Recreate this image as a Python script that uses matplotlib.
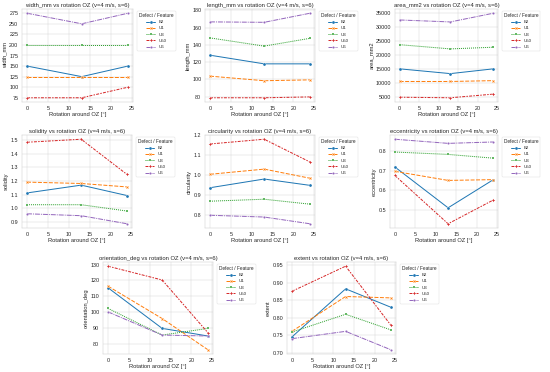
import matplotlib
matplotlib.use("Agg")
import matplotlib.pyplot as plt
import seaborn as sns
import pandas as pd

rotation = [0, 13, 24]
defects = ["B2", "U1", "U3", "U50", "U6"]

width_mm = {"B2": [150, 125, 150], "U1": [125, 125, 125], "U3": [200, 200, 200],
            "U50": [75, 75, 100], "U6": [275, 250, 275]}
length_mm = {"B2": [128, 118, 118], "U1": [103.8, 98.5, 99.5], "U3": [148, 138.5, 147.5],
             "U50": [78.8, 78.8, 79.8], "U6": [166.5, 166, 176.5]}
area_mm2 = {"B2": [15200, 13500, 15200], "U1": [10700, 10700, 11000], "U3": [23800, 22300, 22900],
            "U50": [5100, 4900, 6200], "U6": [32600, 31900, 35000]}
solidity = {"B2": [1.113, 1.170, 1.094], "U1": [1.192, 1.182, 1.157], "U3": [1.027, 1.027, 0.981],
            "U50": [1.483, 1.505, 1.248], "U6": [0.961, 0.947, 0.888]}
circularity = {"B2": [0.936, 0.980, 0.948], "U1": [1.004, 1.030, 0.984], "U3": [0.868, 0.878, 0.853],
               "U50": [1.157, 1.181, 1.066], "U6": [0.797, 0.788, 0.754]}
eccentricity = {"B2": [0.719, 0.512, 0.654], "U1": [0.697, 0.651, 0.655], "U3": [0.795, 0.783, 0.764],
                "U50": [0.676, 0.431, 0.551], "U6": [0.860, 0.839, 0.846]}
orientation_deg = {"B2": [115.4, 89.8, 85.0], "U1": [116.4, 96.0, 76.3], "U3": [102.4, 85.6, 89.8],
                   "U50": [129.0, 120.3, 87.0], "U6": [100.2, 85.6, 85.0]}
extent = {"B2": [0.745, 0.883, 0.830], "U1": [0.761, 0.861, 0.857], "U3": [0.759, 0.810, 0.765],
          "U50": [0.876, 0.948, 0.778], "U6": [0.740, 0.761, 0.708]}

width_ticks = [75, 100, 125, 150, 175, 200, 225, 250, 275]

metrics = [("width_mm", width_mm), ("length_mm", length_mm), ("area_mm2", area_mm2),
           ("solidity", solidity), ("circularity", circularity), ("eccentricity", eccentricity),
           ("orientation_deg", orientation_deg), ("extent", extent)]

sns.set_theme(style="whitegrid")
plt.rcParams['font.family'] = ['Liberation Sans', 'DejaVu Sans']
plt.rcParams.update({
    "axes.titlesize": 15.5,
    "axes.labelsize": 15,
    "xtick.labelsize": 14,
    "ytick.labelsize": 14,
    "legend.fontsize": 11.5,
    "legend.title_fontsize": 12.5,
    "lines.linewidth": 2.6,
    "lines.markersize": 8,
    "axes.titlepad": 6,
})

W, H = 550, 372
DPI = 27.5
fig = plt.figure(figsize=(W / DPI, H / DPI), dpi=DPI)

# pixel boxes: left, top, right, bottom
boxes = [(22, 9, 133, 102), (205, 9, 315, 102), (395, 9, 498, 102),
         (22, 135, 132, 228), (205, 135, 315, 228), (390, 135, 498, 228),
         (103, 262, 213, 354), (287, 262, 396, 354)]

palette = dict(zip(defects, sns.color_palette("tab10", len(defects))))

for (name, data), (l, t, r, b) in zip(metrics, boxes):
    ax = fig.add_axes([l / W, 1 - b / H, (r - l) / W, (b - t) / H])
    rows = []
    for d in defects:
        for x, y in zip(rotation, data[d]):
            rows.append({"rot": x, name: y, "Defect / Feature": d})
    df = pd.DataFrame(rows)
    sns.lineplot(data=df, x="rot", y=name, hue="Defect / Feature", style="Defect / Feature",
                 markers=True, dashes=True, palette=palette, ax=ax,
                 hue_order=defects, style_order=defects)
    ax.set_title(f"{name} vs rotation OZ (v=4 m/s, s=6)")
    ax.set_xlabel("Rotation around OZ [°]")
    ax.set_ylabel(name)
    ax.set_xticks([0, 5, 10, 15, 20, 25])
    if name == "width_mm":
        ax.set_yticks(width_ticks)
    ax.legend(title="Defect / Feature", loc="upper left", bbox_to_anchor=(1.02, 1))

fig.savefig("out.png", dpi=DPI)
